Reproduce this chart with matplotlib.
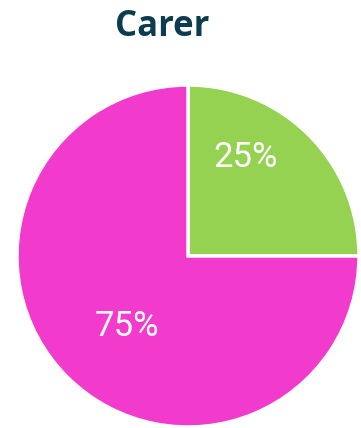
import matplotlib.pyplot as plt

labels = ["Yes", "No"]
values = [25, 75]
colors = ["#96d251", "#f23acd"]
title = "Carer"

fig = plt.figure(figsize=(3.61, 4.28), dpi=100)
ax = fig.add_axes([17 / 361, 1 / 428, 342 / 361, 342 / 428])

wedges, _ = ax.pie(values, colors=colors, startangle=90, counterclock=False,
                   wedgeprops=dict(edgecolor="white", linewidth=2.5))
ax.set_xlim(-1, 1)
ax.set_ylim(-1, 1)
ax.set_aspect("equal")

# label spots, relative to the pie radius
label_pos = [(0.335, 0.575), (-0.36, -0.415)]
for v, (x, y) in zip(values, label_pos):
    ax.text(x, y, f"{v}%", color="white", fontsize=25, family="Roboto",
            ha="center", va="center")

fig.text(162 / 361, 1 - 27 / 428, title, color="#0b3c50", fontsize=25,
         fontweight="bold", family="Open Sans", ha="center", va="center")

fig.savefig("out.png", dpi=100)
